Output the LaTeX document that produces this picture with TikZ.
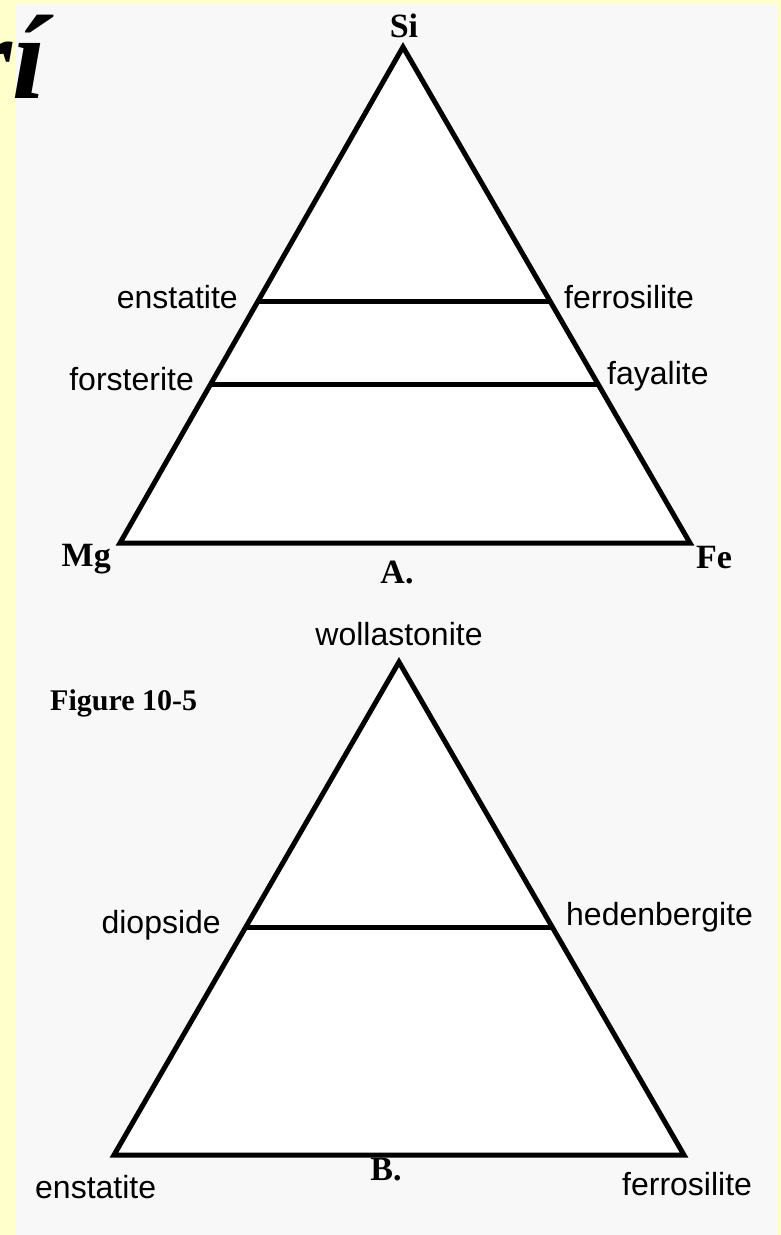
\documentclass[tikz,border=0pt]{standalone}
\usepackage{fontspec}
\setmainfont{Liberation Serif}
\newfontfamily\labelfont{Liberation Sans}
\usetikzlibrary{calc}
\definecolor{pageyellow}{RGB}{255,255,204}
\definecolor{panelgray}{RGB}{248,248,248}

\begin{document}
\begin{tikzpicture}[x=1pt, y=-1pt,
        edge/.style={line width=5pt, line join=miter},
        mineral/.style={inner sep=0pt, font=\labelfont\fontsize{32}{32}\selectfont},
        corner/.style={inner sep=0pt, font=\bfseries\fontsize{34}{34}\selectfont}
      ]
        \useasboundingbox (0,0) rectangle (781,1235);
        \fill[pageyellow] (0,0) rectangle (781,1235);
        \fill[panelgray] (16,4) rectangle (777,1235);
        \node[anchor=base east, inner sep=0pt, font=\bfseries\itshape\fontsize{120}{120}\selectfont] (title) at (46,98) {rí};
        % A. Si - Mg - Fe
        \coordinate (Si) at (403,47);
        \coordinate (Mg) at (120,543);
        \coordinate (Fe) at (690,543);
        \draw[edge, fill=white] (Si)--(Mg)--(Fe)--cycle;
        \coordinate (en) at ($(Mg)!0.486!(Si)$);
        \coordinate (fs) at ($(Fe)!0.486!(Si)$);
        \coordinate (fo) at ($(Mg)!0.319!(Si)$);
        \coordinate (fa) at ($(Fe)!0.319!(Si)$);
        \draw[edge] (en)--(fs);
        \draw[edge] (fo)--(fa);
        \node[corner, anchor=base] (siLabel) at (404,37) {Si};
        \node[corner, anchor=base east] (mgLabel) at (111,566) {Mg};
        \node[corner, anchor=base west] (feLabel) at (696,568) {Fe};
        \node[corner, anchor=base] (aLabel) at (397,583) {A.};
        \node[mineral, anchor=base east] (enLabel) at (238,308) {enstatite};
        \node[mineral, anchor=base east] (foLabel) at (194,390) {forsterite};
        \node[mineral, anchor=base west] (fsLabel) at (564,308) {ferrosilite};
        \node[mineral, anchor=base west] (faLabel) at (607,384) {fayalite};
        % B. wollastonite - enstatite - ferrosilite
        \node[corner, anchor=base west, font=\bfseries\fontsize{30}{30}\selectfont] (figLabel) at (50,710) {Figure 10-5};
        \coordinate (wo) at (399,662);
        \coordinate (enB) at (114,1155);
        \coordinate (fsB) at (684,1155);
        \draw[edge, fill=white] (wo)--(enB)--(fsB)--cycle;
        \coordinate (di) at ($(enB)!0.4625!(wo)$);
        \coordinate (hd) at ($(fsB)!0.4625!(wo)$);
        \draw[edge] (di)--(hd);
        \node[mineral, anchor=base] (woLabel) at (399,645) {wollastonite};
        \node[mineral, anchor=base east] (diLabel) at (221,933) {diopside};
        \node[mineral, anchor=base west] (hdLabel) at (566,925) {hedenbergite};
        \node[mineral, anchor=base west] (enBLabel) at (35,1198) {enstatite};
        \node[mineral, anchor=base west] (fsBLabel) at (622,1195) {ferrosilite};
        \node[corner, anchor=base] (bLabel) at (386,1180) {B.};
      \end{tikzpicture}
\end{document}
